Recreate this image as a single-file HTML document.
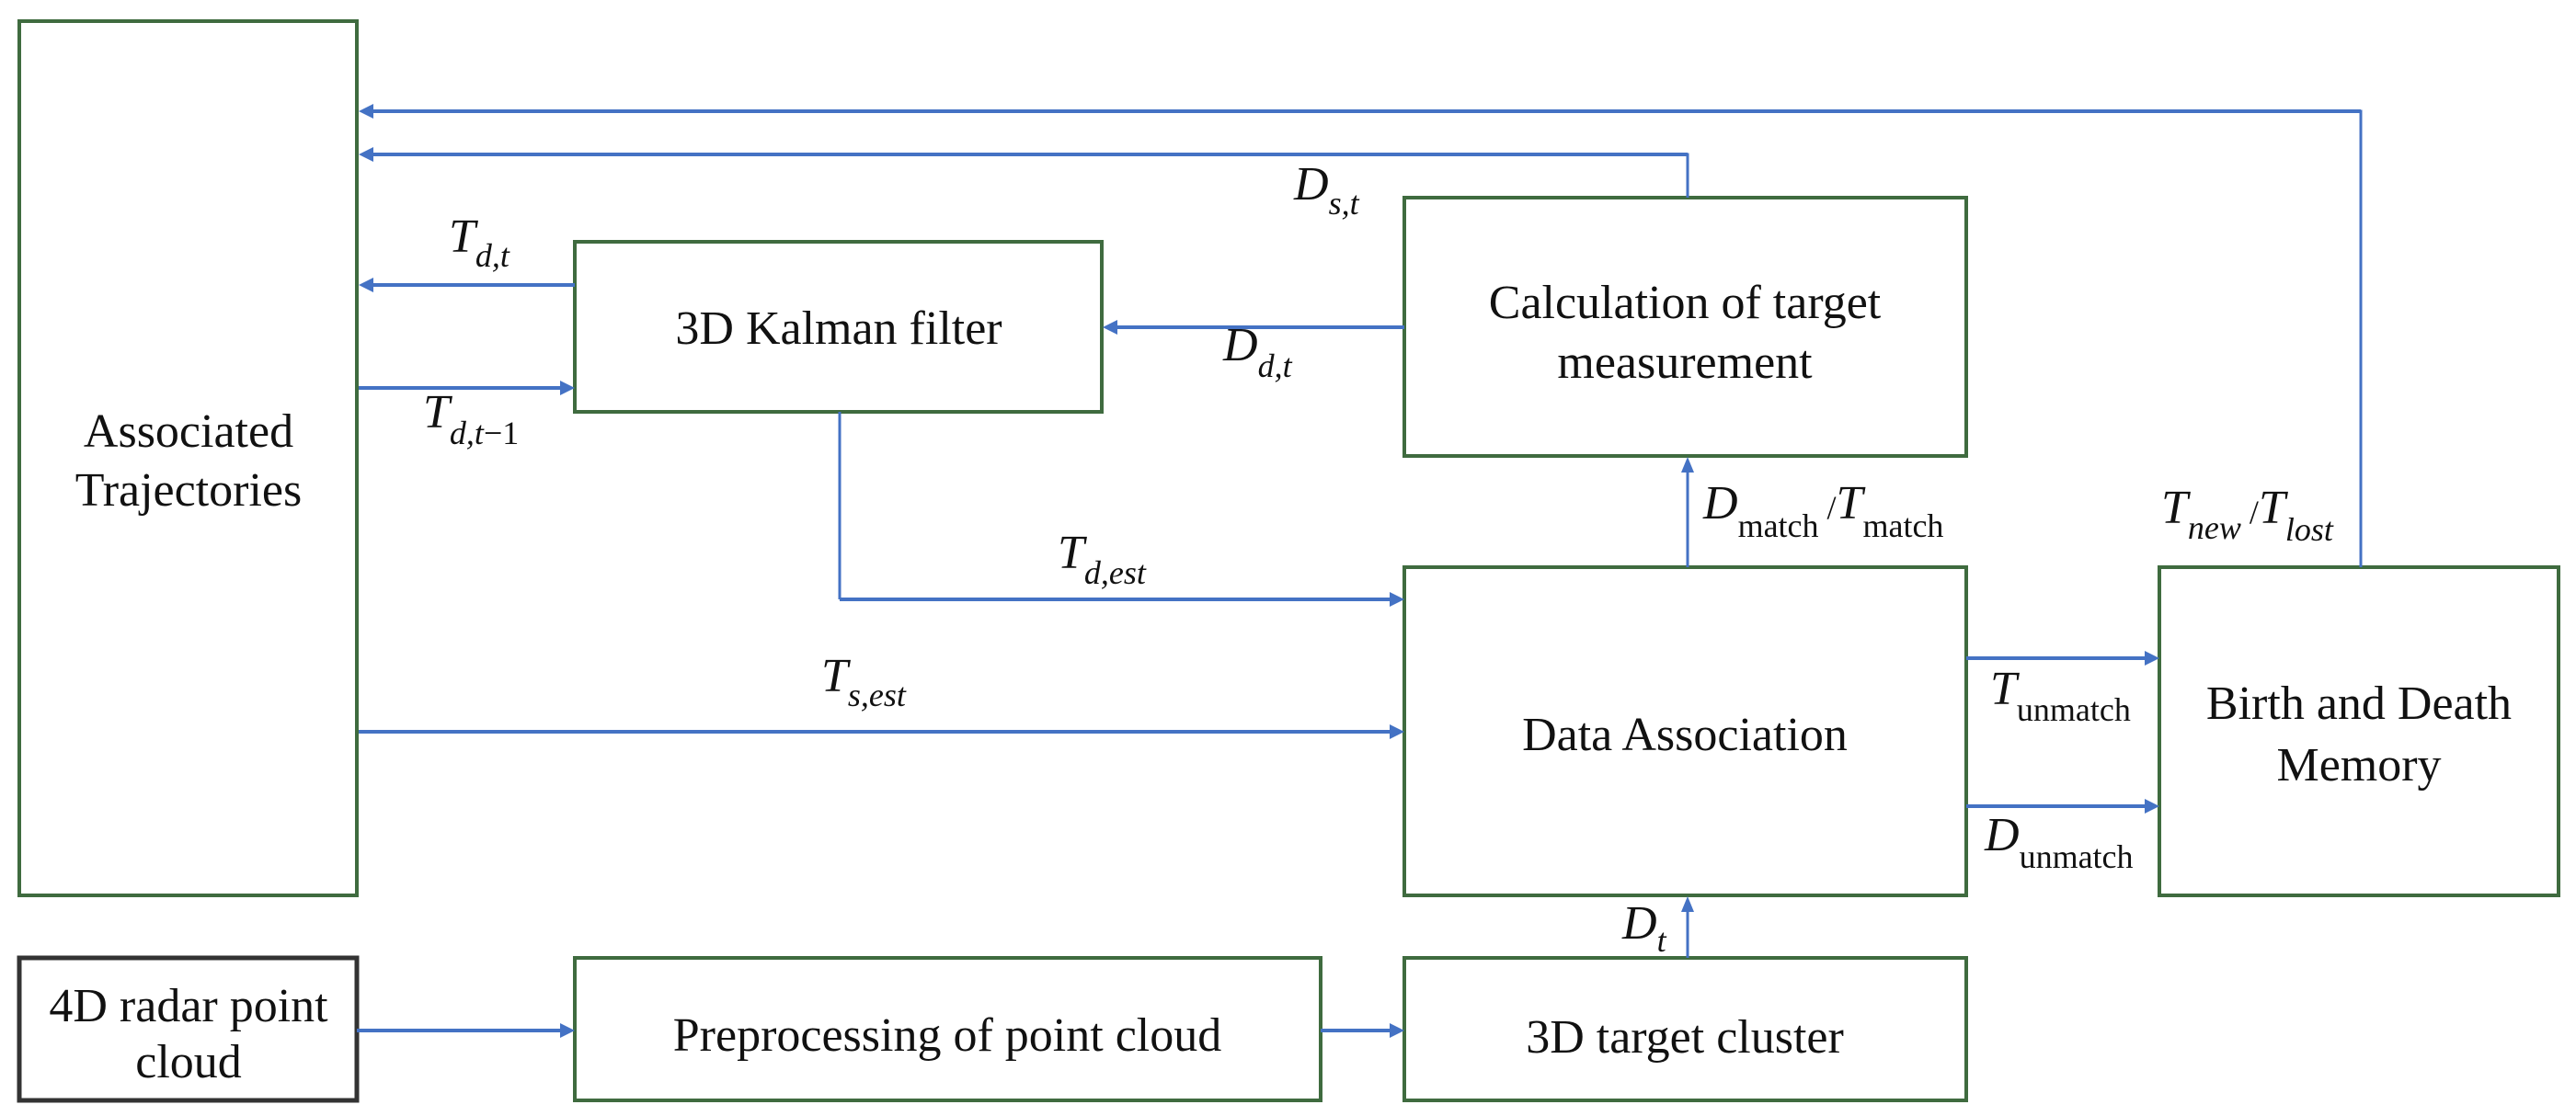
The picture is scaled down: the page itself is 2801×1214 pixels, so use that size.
<!DOCTYPE html>
<html><head><meta charset="utf-8"><style>
html,body{margin:0;padding:0;background:#fff;}
svg{display:block;}
text{font-family:"Liberation Serif",serif;fill:#111;}
.b{fill:#fff;stroke:#3f6b3f;stroke-width:4;}
.l{stroke:#4472c4;stroke-width:4;fill:none;}
.v{stroke:#4472c4;stroke-width:3;fill:none;}
.h{fill:#4472c4;}
.t{font-size:52px;text-anchor:middle;}
.m{font-size:52px;font-style:italic;}
.s{font-size:36px;}
</style></head><body>
<svg width="2801" height="1214" viewBox="0 0 2801 1214" xmlns="http://www.w3.org/2000/svg">
<!-- boxes -->
<rect class="b" x="21" y="23" width="367" height="951"/>
<rect class="b" x="625" y="263" width="573" height="185"/>
<rect class="b" x="1527" y="215" width="611" height="281"/>
<rect class="b" x="1527" y="617" width="611" height="357"/>
<rect class="b" x="2348" y="617" width="434" height="357"/>
<rect x="21" y="1042" width="367" height="155" fill="#fff" stroke="#333" stroke-width="5"/>
<rect class="b" x="625" y="1042" width="811" height="155"/>
<rect class="b" x="1527" y="1042" width="611" height="155"/>

<!-- lines -->
<polyline class="v" points="2567,617 2567,121 404,121"/>
<line class="l" x1="2567" y1="121" x2="404" y2="121"/>
<polyline class="v" points="1835,215 1835,168 404,168"/>
<line class="l" x1="1835" y1="168" x2="404" y2="168"/>
<line class="l" x1="625" y1="310" x2="404" y2="310"/>
<line class="l" x1="390" y1="422" x2="610" y2="422"/>
<line class="l" x1="1527" y1="356" x2="1214" y2="356"/>
<polyline class="v" points="913,448 913,652"/>
<line class="l" x1="913" y1="652" x2="1512" y2="652"/>
<line class="l" x1="390" y1="796" x2="1512" y2="796"/>
<line class="v" x1="1835" y1="617" x2="1835" y2="512"/>
<line class="l" x1="2138" y1="716" x2="2333" y2="716"/>
<line class="l" x1="2138" y1="877" x2="2333" y2="877"/>
<line class="v" x1="1835" y1="1042" x2="1835" y2="990"/>
<line class="l" x1="388" y1="1121" x2="610" y2="1121"/>
<line class="l" x1="1436" y1="1121" x2="1512" y2="1121"/>

<!-- arrowheads -->
<polygon class="h" points="390,121 406,113 406,129"/>
<polygon class="h" points="390,168 406,160 406,176"/>
<polygon class="h" points="390,310 406,302 406,318"/>
<polygon class="h" points="625,422 609,414 609,430"/>
<polygon class="h" points="1199,356 1215,348 1215,364"/>
<polygon class="h" points="1527,652 1511,644 1511,660"/>
<polygon class="h" points="1527,796 1511,788 1511,804"/>
<polygon class="h" points="1835,497 1828,514 1842,514"/>
<polygon class="h" points="2348,716 2332,708 2332,724"/>
<polygon class="h" points="2348,877 2332,869 2332,885"/>
<polygon class="h" points="1835,975 1828,992 1842,992"/>
<polygon class="h" points="625,1121 609,1113 609,1129"/>
<polygon class="h" points="1527,1121 1511,1113 1511,1129"/>

<!-- box text -->
<text class="t" x="205" y="486">Associated</text>
<text class="t" x="205" y="550">Trajectories</text>
<text class="t" x="912" y="374">3D Kalman filter</text>
<text class="t" x="1832" y="346">Calculation of target</text>
<text class="t" x="1832" y="411">measurement</text>
<text class="t" x="1832" y="816">Data Association</text>
<text class="t" x="2565" y="782">Birth and Death</text>
<text class="t" x="2565" y="849">Memory</text>
<text class="t" x="205" y="1111">4D radar point</text>
<text class="t" x="205" y="1172">cloud</text>
<text class="t" x="1030" y="1143">Preprocessing of point cloud</text>
<text class="t" x="1832" y="1145">3D target cluster</text>

<!-- labels -->
<text x="488" y="274"><tspan class="m">T</tspan><tspan class="s" font-style="italic" dy="16">d,t</tspan></text>
<text x="460" y="465"><tspan class="m">T</tspan><tspan class="s" font-style="italic" dy="18">d,t</tspan><tspan class="s" dy="0">−1</tspan></text>
<text x="1330" y="392"><tspan class="m">D</tspan><tspan class="s" font-style="italic" dy="18">d,t</tspan></text>
<text x="1407" y="217"><tspan class="m">D</tspan><tspan class="s" font-style="italic" dy="16">s,t</tspan></text>
<text x="1150" y="618"><tspan class="m">T</tspan><tspan class="s" font-style="italic" dy="17">d,est</tspan></text>
<text x="893" y="752"><tspan class="m">T</tspan><tspan class="s" font-style="italic" dy="16">s,est</tspan></text>
<text x="1852" y="564"><tspan class="m">D</tspan><tspan class="s" dy="20">match</tspan><tspan class="s" dy="-20"> /</tspan><tspan class="m">T</tspan><tspan class="s" dy="20">match</tspan></text>
<text x="2350" y="569"><tspan class="m">T</tspan><tspan class="s" font-style="italic" dy="17">new</tspan><tspan class="s" dy="-17"> /</tspan><tspan class="m">T</tspan><tspan class="s" font-style="italic" dy="19">lost</tspan></text>
<text x="2164" y="766"><tspan class="m">T</tspan><tspan class="s" dy="18">unmatch</tspan></text>
<text x="2158" y="925"><tspan class="m">D</tspan><tspan class="s" dy="19">unmatch</tspan></text>
<text x="1764" y="1021"><tspan class="m">D</tspan><tspan class="s" font-style="italic" dy="14">t</tspan></text>
</svg>
</body></html>
